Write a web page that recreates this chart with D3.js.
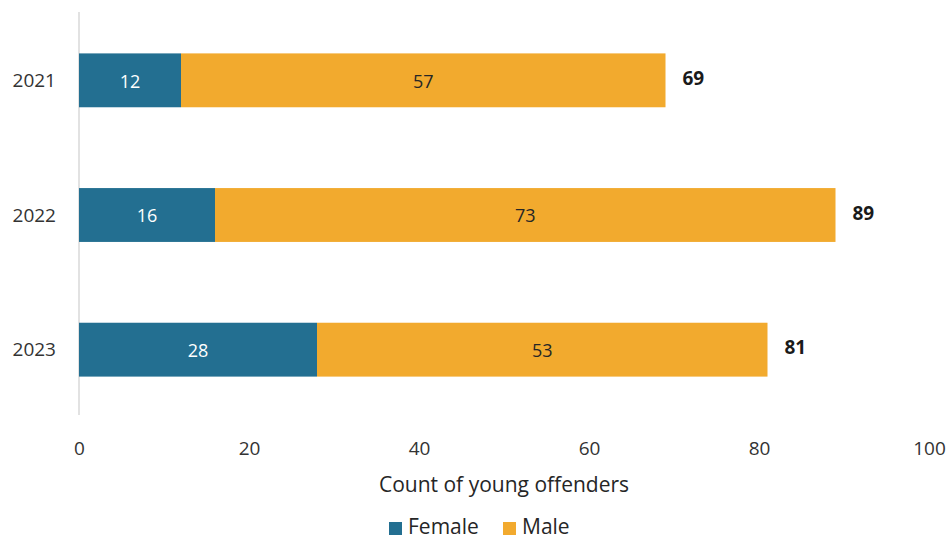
<!DOCTYPE html>
<html><head><meta charset="utf-8">
<script src="https://cdn.jsdelivr.net/npm/d3@7"></script>
<style>body{margin:0;background:#fff}svg{display:block}text{font-family:"Open Sans","Noto Sans",sans-serif}</style>
</head><body><svg id="c" width="950" height="539"></svg>
<script>
const years = ["2021","2022","2023"];
const female = [12,16,28];
const male = [57,73,53];
const xTicks = [0,20,40,60,80,100];
const seriesNames = ["Female","Male"];
const colors = ["#236f91","#f2aa2e"];

const svg = d3.select("#c");
const x = d3.scaleLinear().domain([0,100]).range([79,929]);
const y = d3.scaleBand().domain(years).range([13,417]).paddingInner(0.6).paddingOuter(0.3);
const fs = 19;

const data = years.map((yr,i)=>({year:yr, Female:female[i], Male:male[i]}));
const stack = d3.stack().keys(seriesNames)(data);

svg.append("line").attr("x1",x(0)).attr("x2",x(0)).attr("y1",12).attr("y2",415)
  .attr("stroke","#d9d9d9").attr("stroke-width",1.5);

stack.forEach((s,si)=>{
  const g = svg.append("g");
  g.selectAll("rect").data(s).join("rect")
    .attr("x",d=>x(d[0])).attr("width",d=>x(d[1])-x(d[0]))
    .attr("y",d=>y(d.data.year)).attr("height",y.bandwidth())
    .attr("fill",colors[si]);
  g.selectAll("text").data(s).join("text")
    .attr("x",d=>(x(d[0])+x(d[1]))/2).attr("y",d=>y(d.data.year)+y.bandwidth()/2+1)
    .attr("dy","0.35em").attr("text-anchor","middle").attr("font-size",fs-1)
    .attr("fill",si===0?"#ffffff":"#262626").text(d=>d[1]-d[0]);
});

// totals
svg.append("g").selectAll("text").data(data).join("text")
  .attr("x",d=>x(d.Female+d.Male)+17).attr("y",d=>y(d.year)+y.bandwidth()/2-2)
  .attr("dy","0.35em").attr("font-size",fs).attr("font-weight","bold").attr("fill","#1a1a1a")
  .text(d=>d.Female+d.Male);

// y labels
svg.append("g").selectAll("text").data(years).join("text")
  .attr("x",56).attr("y",d=>y(d)+y.bandwidth()/2).attr("dy","0.35em")
  .attr("text-anchor","end").attr("font-size",fs).attr("fill","#333").text(d=>d);

// x axis
const xa = svg.append("g").attr("transform","translate(0,441)")
  .call(d3.axisBottom(x).tickValues(xTicks).tickSize(0).tickPadding(0));
xa.select(".domain").remove();
xa.selectAll("text").attr("font-size",fs).attr("fill","#333").attr("font-family","'Open Sans','Noto Sans',sans-serif");

svg.append("text").attr("x",504).attr("y",492).attr("text-anchor","middle")
  .attr("font-size",21).attr("fill","#262626").text("Count of young offenders");

// legend
const leg = svg.append("g");
const lx = [389,503];
seriesNames.forEach((n,i)=>{
  leg.append("rect").attr("x",lx[i]).attr("y",522).attr("width",13).attr("height",13).attr("fill",colors[i]);
  leg.append("text").attr("x",lx[i]+19).attr("y",527).attr("dy","0.35em").attr("font-size",21)
    .attr("fill","#262626").text(n);
});
</script></body></html>
